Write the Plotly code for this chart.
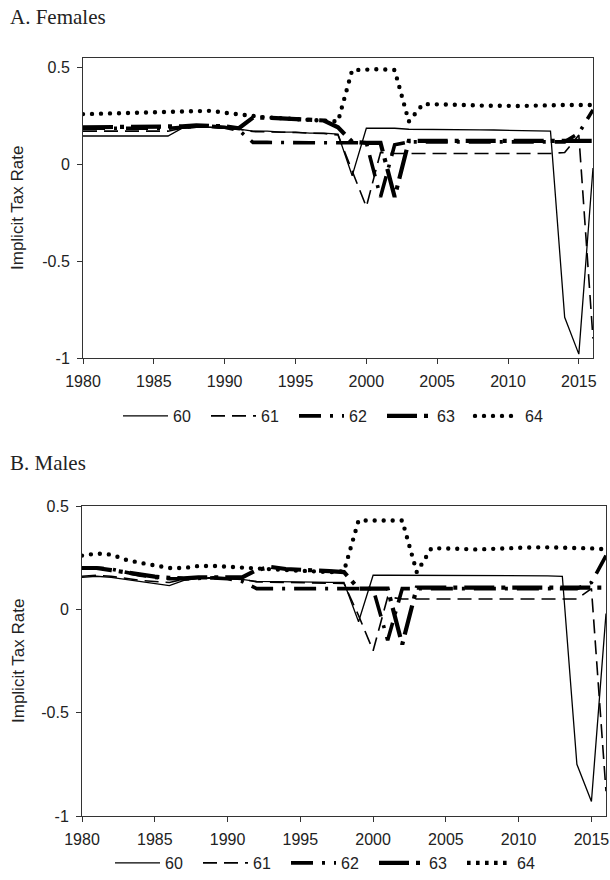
import plotly.graph_objects as go

# ---------------------------------------------------------------------------
# Data: implicit tax rate by age (60-64), 1980-2016
# ---------------------------------------------------------------------------
years = list(range(1980, 2017))
ages = ["60", "61", "62", "63", "64"]

x_tick_vals = [1980, 1985, 1990, 1995, 2000, 2005, 2010, 2015]
y_tick_vals = [-1, -0.5, 0, 0.5]
y_tick_text = ["-1", "-0.5", "0", "0.5"]

females_60 = [0.145, 0.145, 0.145, 0.145, 0.145, 0.145, 0.145,
              0.185, 0.19, 0.19, 0.185, 0.18,
              0.17, 0.17, 0.165, 0.165, 0.16, 0.16, 0.155,
              -0.06,
              0.185, 0.185, 0.185, 0.18, 0.18, 0.18, 0.18, 0.178, 0.177, 0.176,
              0.175, 0.175, 0.174, 0.17,
              -0.79, -0.98, -0.02]
females_61 = [0.17, 0.17, 0.17, 0.17, 0.17, 0.17, 0.17,
              0.185, 0.19, 0.19, 0.185, 0.18,
              0.168, 0.167, 0.165, 0.163, 0.16, 0.158, 0.15,
              -0.04, -0.22, 0.06,
              0.055, 0.055, 0.055, 0.055, 0.055, 0.055, 0.055, 0.055, 0.055,
              0.055, 0.055, 0.055,
              0.06, 0.15, -0.9]
females_62 = [0.185, 0.185, 0.185, 0.185, 0.185, 0.185, 0.185,
              0.19, 0.195, 0.195, 0.19, 0.175,
              0.112, 0.112, 0.11, 0.11, 0.11, 0.11, 0.11,
              0.11, 0.11, -0.17, 0.1,
              0.115, 0.115, 0.115, 0.115, 0.115, 0.115, 0.115, 0.115, 0.115,
              0.115, 0.115,
              0.115, 0.16, 0.28]
females_63 = [0.19, 0.19, 0.19, 0.19, 0.19, 0.19, 0.19,
              0.195, 0.2, 0.2, 0.195, 0.185,
              0.24, 0.24, 0.235, 0.23, 0.228, 0.225, 0.19,
              0.115, 0.11, 0.11, -0.17,
              0.12, 0.12, 0.12, 0.12, 0.12, 0.12, 0.12, 0.12, 0.12, 0.12,
              0.12, 0.12, 0.12, 0.12]
females_64 = [0.258, 0.26, 0.262, 0.263, 0.265, 0.266, 0.268, 0.272, 0.276,
              0.275, 0.265, 0.255, 0.245, 0.24, 0.237, 0.234, 0.23, 0.226,
              0.22,
              0.485, 0.49, 0.49, 0.485, 0.22,
              0.31, 0.31, 0.308, 0.305, 0.302, 0.3, 0.3, 0.3, 0.302, 0.305,
              0.305, 0.305, 0.305]

males_60 = [0.155, 0.16, 0.155, 0.145, 0.135, 0.125, 0.115,
            0.14, 0.15, 0.15, 0.148, 0.145,
            0.135, 0.135, 0.133, 0.132, 0.132, 0.13, 0.13,
            -0.06,
            0.165, 0.165, 0.165, 0.165, 0.165, 0.165, 0.165, 0.164, 0.164,
            0.163, 0.163, 0.162, 0.162, 0.16,
            -0.75, -0.93, -0.02]
males_61 = [0.16, 0.165, 0.16, 0.15, 0.14, 0.135, 0.13,
            0.145, 0.152, 0.152, 0.15, 0.145,
            0.133, 0.132, 0.13, 0.13, 0.128, 0.127, 0.125,
            -0.03, -0.2, 0.06,
            0.05, 0.05, 0.05, 0.05, 0.05, 0.05, 0.05, 0.05, 0.05, 0.05,
            0.05, 0.05, 0.05,
            0.1, -0.88]
males_62 = [0.2, 0.2, 0.195, 0.18, 0.165, 0.155, 0.148,
            0.148, 0.152, 0.152, 0.148, 0.135,
            0.1, 0.1, 0.1, 0.1, 0.1, 0.1, 0.1, 0.1,
            0.1, -0.15, 0.1,
            0.1, 0.1, 0.1, 0.1, 0.1, 0.1, 0.1, 0.1, 0.1, 0.1, 0.1, 0.1,
            0.13, 0.26]
males_63 = [0.2, 0.2, 0.19, 0.178, 0.165, 0.158, 0.152,
            0.15, 0.155, 0.155, 0.15, 0.155,
            0.19, 0.205, 0.195, 0.19, 0.188, 0.185, 0.18,
            0.1, 0.1, 0.1, -0.17,
            0.105, 0.105, 0.105, 0.105, 0.105, 0.105, 0.105, 0.105, 0.105,
            0.105, 0.105, 0.105, 0.105, 0.105]
males_64 = [0.26, 0.27, 0.265, 0.24, 0.225, 0.21, 0.2, 0.2, 0.21, 0.21,
            0.205, 0.2, 0.195, 0.19, 0.19, 0.187, 0.185, 0.18, 0.185,
            0.43, 0.43, 0.43, 0.43, 0.18,
            0.295, 0.295, 0.29, 0.29, 0.292, 0.295, 0.3, 0.3, 0.3, 0.3,
            0.298, 0.295, 0.29]

females = [females_60, females_61, females_62, females_63, females_64]
males = [males_60, males_61, males_62, males_63, males_64]

# ---------------------------------------------------------------------------
# Styling
# ---------------------------------------------------------------------------
W, H = 610, 880
line_styles = {
    "60": dict(width=1.3, dash="solid"),
    "61": dict(width=1.6, dash="14px,7px"),
    "62": dict(width=3.6, dash="22px,9px,3px,9px"),
    "63": dict(width=4.2, dash="30px,7px,4px,7px"),
    "64": dict(width=4.4, dash="3.6px,5.4px"),
}
sans = "Arial, Liberation Sans, sans-serif"
tick_font = dict(family=sans, size=16, color="#222")
title_font = dict(family="Liberation Serif, Times New Roman, serif", size=21, color="#222")
axis_font = dict(family=sans, size=17, color="#222")


def px_x(p):
    return p / W


def px_y(p):
    return 1 - p / H


fig = go.Figure()

for age, vals in zip(ages, females):
    fig.add_trace(go.Scatter(
        x=years, y=vals, mode="lines", name=age, uid="fem" + age,
        line=dict(color="black", **line_styles[age]),
        xaxis="x", yaxis="y", legend="legend", hoverinfo="skip"))

for age, vals in zip(ages, males):
    fig.add_trace(go.Scatter(
        x=years, y=vals, mode="lines", name=age, uid="mal" + age,
        line=dict(color="black", **line_styles[age]),
        xaxis="x2", yaxis="y2", legend="legend2", hoverinfo="skip"))

axis_common = dict(
    showline=True, linecolor="#333", linewidth=1, mirror=True,
    ticks="outside", ticklen=5, tickcolor="#333", tickwidth=1,
    showgrid=False, zeroline=False, tickfont=tick_font,
    automargin=False, ticklabelstandoff=4,
)

legend_common = dict(
    orientation="h", xanchor="center",
    font=dict(family=sans, size=16, color="#222"),
    bgcolor="rgba(0,0,0,0)", itemwidth=45,
    entrywidth=28, entrywidthmode="pixels",
)

fig.update_layout(
    width=W, height=H,
    margin=dict(l=0, r=0, t=0, b=0, autoexpand=False),
    paper_bgcolor="white", plot_bgcolor="white",
    xaxis=dict(domain=[px_x(83), px_x(593)], anchor="y", range=[1980, 2016],
               tickvals=x_tick_vals, **axis_common),
    yaxis=dict(domain=[px_y(358), px_y(57.5)], anchor="x", range=[-1, 0.55],
               tickvals=y_tick_vals, ticktext=y_tick_text, **axis_common),
    xaxis2=dict(domain=[px_x(82), px_x(606)], anchor="y2", range=[1980, 2016],
                tickvals=x_tick_vals, **axis_common),
    yaxis2=dict(domain=[px_y(816), px_y(506)], anchor="x2", range=[-1, 0.5],
                tickvals=y_tick_vals, ticktext=y_tick_text, **axis_common),
    legend=dict(x=px_x(338), y=px_y(416), yanchor="middle", **legend_common),
    legend2=dict(x=px_x(330), y=0, yanchor="bottom", **legend_common),
    showlegend=True,
)

annotations = [
    dict(text="A. Females", x=px_x(8), y=px_y(17), xanchor="left", yanchor="middle",
         font=title_font),
    dict(text="B. Males", x=px_x(8), y=px_y(463), xanchor="left", yanchor="middle",
         font=title_font),
    dict(text="Implicit Tax Rate", x=px_x(18), y=px_y(208), textangle=-90,
         xanchor="center", yanchor="middle", font=axis_font),
    dict(text="Implicit Tax Rate", x=px_x(18), y=px_y(661), textangle=-90,
         xanchor="center", yanchor="middle", font=axis_font),
]
for a in annotations:
    a.update(xref="paper", yref="paper", showarrow=False)
fig.update_layout(annotations=annotations)

# Give the age-64 dotted lines (plot and legend) round dots.
round_dots_js = """
var gd = document.getElementById('{plot_id}');
function roundDots() {
  var sel = 'g.tracefem64 path.js-line, g.tracemal64 path.js-line';
  gd.querySelectorAll(sel).forEach(function (p) {
    p.style.strokeLinecap = 'round';
    p.style.strokeDasharray = '0px,9px';
  });
  gd.querySelectorAll('g.traces').forEach(function (g) {
    var t = g.querySelector('text.legendtext');
    if (t && t.textContent === '64') {
      g.querySelectorAll('path.js-line').forEach(function (p) {
        p.style.strokeLinecap = 'round';
        p.style.strokeDasharray = '0px,9px';
      });
    }
  });
}
roundDots();
gd.on('plotly_afterplot', roundDots);
"""

fig.write_html("out.html", post_script=round_dots_js)
